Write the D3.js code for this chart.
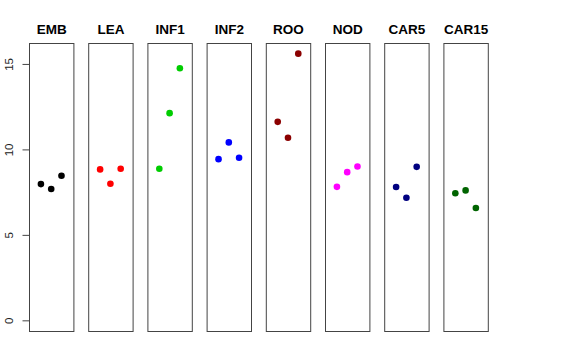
<!DOCTYPE html>
<html><head><meta charset="utf-8">
<script src="https://cdn.jsdelivr.net/npm/d3@7"></script>
<style>body{margin:0;background:#fff}svg{display:block}</style>
</head><body>
<svg id="c" width="576" height="360"></svg>
<script>
const categories = ["EMB","LEA","INF1","INF2","ROO","NOD","CAR5","CAR15"];
const colors = ["#000000","#FF0000","#00CD00","#0000FF","#8B0000","#FF00FF","#000080","#006400"];
const EMB = [7.97, 7.68, 8.46];
const LEA = [8.83, 7.99, 8.87];
const INF1 = [8.87, 12.12, 14.75];
const INF2 = [9.43, 10.41, 9.51];
const ROO = [11.61, 10.68, 15.6];
const NOD = [7.81, 8.67, 9.0];
const CAR5 = [7.80, 7.17, 8.98];
const CAR15 = [7.43, 7.60, 6.57];
const yTicks = [0, 5, 10, 15];
const series = [EMB, LEA, INF1, INF2, ROO, NOD, CAR5, CAR15];

const svg = d3.select("#c");
const plotTop = 43, plotBottom = 331;
const panelW = 44.4, step = 59.2, left0 = 29;
const y = d3.scaleLinear().domain([-0.624, 16.224]).range([plotBottom, plotTop]);

categories.forEach((cat, i) => {
  const x0 = left0 + step * i;
  const x = d3.scaleLinear().domain([-0.16, 4.16]).range([x0, x0 + panelW]);
  const g = svg.append("g");
  g.append("rect").attr("x", x0 + 0.5).attr("y", plotTop + 0.5)
    .attr("width", panelW).attr("height", plotBottom - plotTop)
    .attr("fill", "none").attr("stroke", "#444").attr("stroke-width", 1);
  g.selectAll("circle").data(series[i]).join("circle")
    .attr("cx", (d, j) => x(j + 1)).attr("cy", d => y(d)).attr("r", 3.3)
    .attr("fill", colors[i]);
  g.append("text").attr("x", x0 + panelW / 2 + 0.5).attr("y", 34)
    .attr("text-anchor", "middle").attr("font-family", "Liberation Sans, Arial, sans-serif")
    .attr("font-weight", "bold").attr("font-size", 13.5).text(cat);
});

const axis = d3.axisLeft(y).tickValues(yTicks).tickSize(7).tickPadding(4).tickFormat(d3.format("d"));
const ag = svg.append("g").attr("transform", `translate(${left0 + 0.5},0)`).call(axis);
ag.select(".domain").attr("d", `M0,${y(0)}V${y(15)}`).attr("stroke", "#444");
ag.selectAll(".tick line").attr("stroke", "#444");
ag.selectAll(".tick text")
  .attr("font-family", "Liberation Sans, Arial, sans-serif").attr("font-size", 11.5)
  .attr("fill", "#222")
  .attr("transform", "rotate(-90)")
  .attr("x", 0).attr("y", -17)
  .attr("dy", 0)
  .attr("text-anchor", "middle");
</script>
</body></html>
